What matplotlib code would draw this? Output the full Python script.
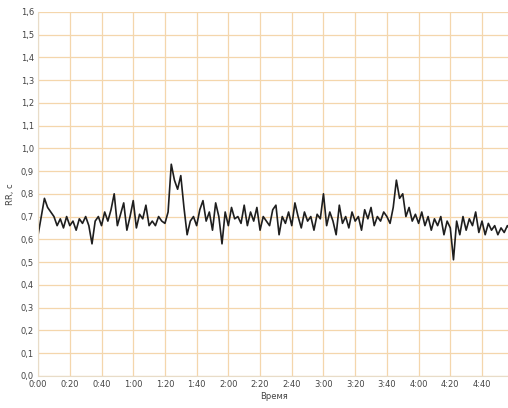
import matplotlib
matplotlib.use('Agg')
import matplotlib.pyplot as plt
import numpy as np

# RR intervals, one value every 2 s
step = 2
rr = [
    0.62, 0.70, 0.78, 0.74, 0.72, 0.70, 0.66, 0.69, 0.65, 0.70,
    0.66, 0.68, 0.64, 0.69, 0.67, 0.70, 0.66, 0.58, 0.68, 0.70,
    0.66, 0.72, 0.68, 0.73, 0.80, 0.66, 0.71, 0.76, 0.64, 0.70,
    0.77, 0.65, 0.71, 0.69, 0.75, 0.66, 0.68, 0.66, 0.70, 0.68,
    0.67, 0.72, 0.93, 0.86, 0.82, 0.88, 0.74, 0.62, 0.68, 0.70,
    0.66, 0.73, 0.77, 0.68, 0.72, 0.64, 0.76, 0.70, 0.58, 0.72,
    0.66, 0.74, 0.69, 0.70, 0.67, 0.75, 0.66, 0.72, 0.68, 0.74,
    0.64, 0.70, 0.68, 0.66, 0.73, 0.75, 0.62, 0.70, 0.67, 0.72,
    0.66, 0.76, 0.70, 0.65, 0.72, 0.68, 0.70, 0.64, 0.71, 0.69,
    0.80, 0.66, 0.72, 0.68, 0.62, 0.75, 0.67, 0.70, 0.65, 0.72,
    0.68, 0.70, 0.64, 0.73, 0.69, 0.74, 0.66, 0.70, 0.68, 0.72,
    0.70, 0.67, 0.74, 0.86, 0.78, 0.80, 0.70, 0.74, 0.68, 0.71,
    0.67, 0.72, 0.66, 0.70, 0.64, 0.69, 0.66, 0.70, 0.62, 0.68,
    0.65, 0.51, 0.68, 0.62, 0.70, 0.64, 0.69, 0.66, 0.72, 0.63,
    0.68, 0.62, 0.67, 0.64, 0.66, 0.62, 0.65, 0.63, 0.66, 0.64,
]
t = np.arange(len(rr)) * step

x_ticks = list(range(0, 281, 20))
x_labels = ['%d:%02d' % (s // 60, s % 60) for s in x_ticks]
y_ticks = [i / 10 for i in range(17)]
y_labels = [('%.1f' % v).replace('.', ',') for v in y_ticks]

fig = plt.figure(figsize=(5.08, 4.08), dpi=100)
ax = fig.add_axes([0.075, 0.079, 0.93, 0.892])

ax.plot(t, rr, color='#1e1e1e', lw=1.2)

ax.set_xlim(0, 298)
ax.set_ylim(0, 1.6)
ax.set_xticks(x_ticks)
ax.set_xticklabels(x_labels)
ax.set_yticks(y_ticks)
ax.set_yticklabels(y_labels)
ax.grid(True, color='#f4d6ac', lw=0.9)
ax.set_axisbelow(True)
ax.tick_params(length=0, labelsize=6, colors='#444444', pad=3)
for s in ['top', 'right']:
    ax.spines[s].set_visible(False)
for s in ['left', 'bottom']:
    ax.spines[s].set_color('#e8dcc8')

ax.set_xlabel('Время', fontsize=6, color='#444444', labelpad=2)
ax.set_ylabel('RR, с', fontsize=6, color='#444444', labelpad=4)

plt.savefig('out.png', dpi=100)
